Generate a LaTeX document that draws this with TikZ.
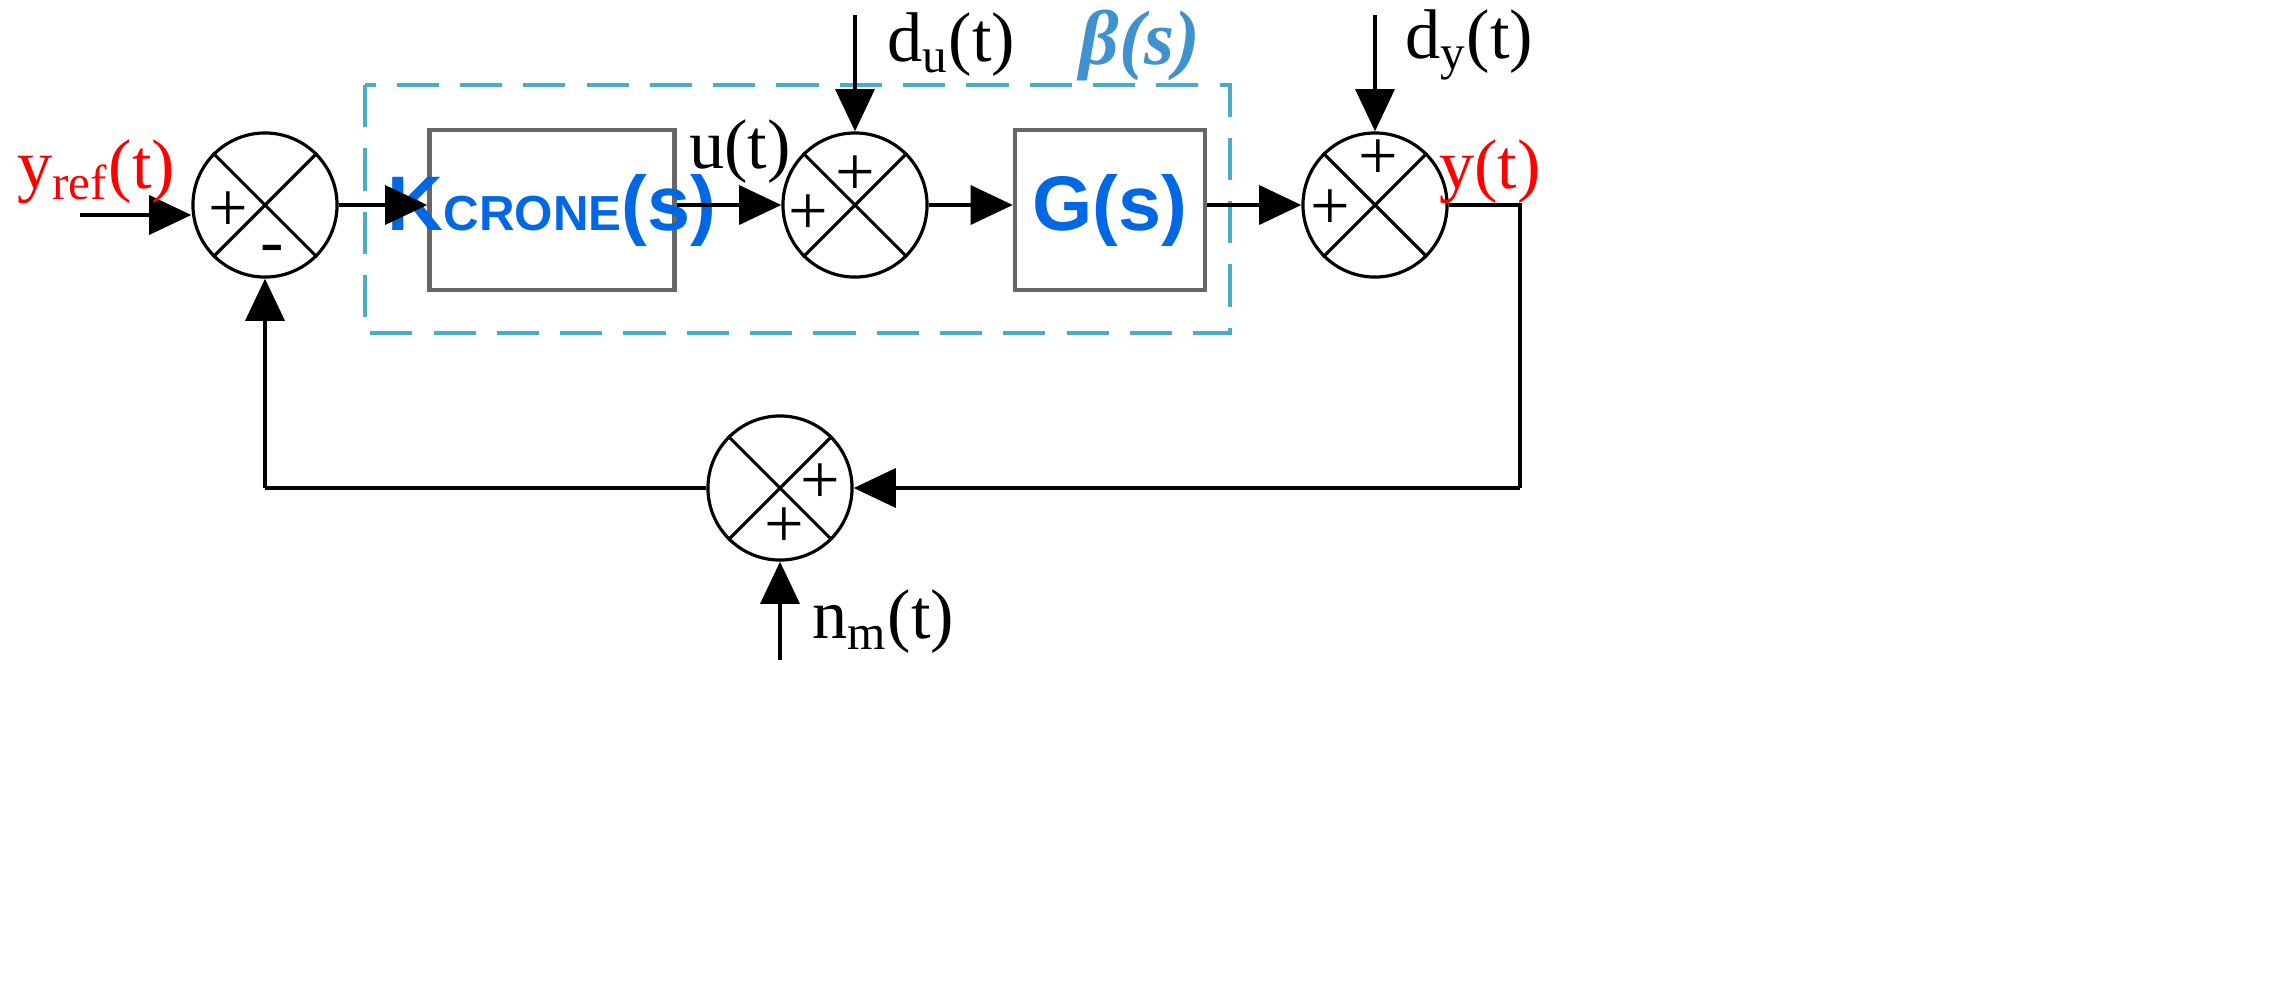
\documentclass[tikz,border=0pt]{standalone}
\usepackage{fontspec}
\setmainfont{Liberation Serif}
\newfontfamily\blk{Liberation Sans}
\usetikzlibrary{arrows.meta}
\begin{document}
\begin{tikzpicture}[x=0.01cm,y=-0.01cm,
  sig/.style={line width=1.3pt,-{Triangle[length=12pt,width=11pt]}},
  ln/.style={line width=1.3pt},
  sum/.style={circle,draw,line width=0.9pt,minimum size=1.44cm,inner sep=0pt},
  blkst/.style={draw=gray!80!black,line width=1.2pt,fill=white,inner sep=0pt},
  lab/.style={font=\fontsize{20}{22}\selectfont},
  pm/.style={font=\fontsize{20}{22}\selectfont,inner sep=0pt},
  btxt/.style={font=\blk\bfseries\fontsize{22}{24}\selectfont,text=blue!55!cyan!90!black}]
\useasboundingbox (0,0) rectangle (2295,981);
\definecolor{dashc}{HTML}{4BACC6}
\draw[draw=dashc,line width=1.4pt,dash pattern=on 12pt off 6pt] (365,85) rectangle (1230,333);
\node[sum] (s1) at (265,205) {};
\node[sum] (s2) at (855,205) {};
\node[sum] (s3) at (1375,205) {};
\node[sum] (s4) at (780,488) {};
\foreach \s in {s1,s2,s3,s4}{
  \draw[line width=0.9pt] (\s.45)--(\s.225) (\s.135)--(\s.315);}
\node[blkst,minimum width=2.45cm,minimum height=1.6cm] (K) at (552,210) {};
\node[btxt] at (K) {K\fontsize{14}{16}\selectfont CRONE\fontsize{22}{24}\selectfont(s)};
\node[blkst,minimum width=1.9cm,minimum height=1.6cm] (G) at (1110,210) {};
\node[btxt] at (G) {G(s)};
% signs
\node[pm] at (228,212) {+}; \node[pm] at (272,255) {-};
\node[pm] at (855,176) {+}; \node[pm] at (808,215) {+};
\node[pm] at (1378,160) {+}; \node[pm] at (1330,210) {+};
\node[pm] at (820,484) {+}; \node[pm] at (784,528) {+};
% inputs
\coordinate (in) at (80,215);
\draw[sig] (in) -- (in -| s1.west);
\node[lab,text=red,anchor=west] at (5,172) {y\textsubscript{ref}(t)};
\draw[sig] (s1.east) -- (K.west |- s1.east);
\draw[sig] (K.east |- s2.west) -- (s2.west);
\node[lab] at (740,152) {u(t)};
\coordinate (du) at (855,15);
\draw[sig] (du) -- (s2.north);
\node[lab,anchor=west] at (875,45) {d\textsubscript{u}(t)};
\node[font=\bfseries\itshape\fontsize{22}{24}\selectfont,text=dashc!85!blue] at (1140,45) {β(s)};
\draw[sig] (s2.east) -- (G.west |- s2.east);
\draw[sig] (G.east |- s3.west) -- (s3.west);
\coordinate (dy) at (1375,15);
\draw[sig] (dy) -- (s3.north);
\node[lab,anchor=west] at (1393,45) {d\textsubscript{y}(t)};
\node[lab,text=red] at (1490,172) {y(t)};
\coordinate (c1) at (1520,205);
\coordinate (c2) at (1520,488);
\coordinate (c3) at (265,488);
\draw[ln] (s3.east) -- (c1) -- (c2);
\draw[sig] (c2) -- (s4.east);
\draw[ln] (s4.west) -- (c3);
\draw[sig] (c3) -- (s1.south);
\coordinate (nm) at (780,660);
\draw[sig] (nm) -- (s4.south);
\node[lab,anchor=west] at (800,622) {n\textsubscript{m}(t)};
\end{tikzpicture}
\end{document}
